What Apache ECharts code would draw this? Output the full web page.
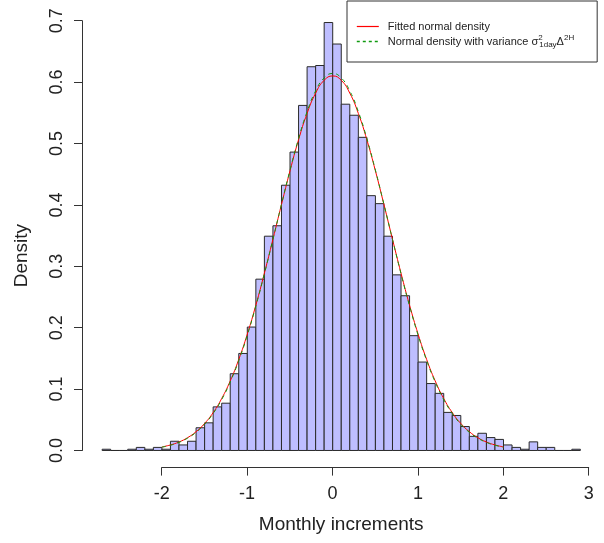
<!DOCTYPE html>
<html>
<head>
<meta charset="utf-8">
<script src="https://cdn.jsdelivr.net/npm/echarts@6/dist/echarts.min.js"></script>
<style>
  html, body { margin: 0; padding: 0; background: #fff; }
  #main { width: 604px; height: 543px; }
</style>
</head>
<body>
<div id="main"></div>
<script>
// histogram breaks and densities
const breaks = [-2.7, -2.6, -2.5, -2.4, -2.3, -2.2, -2.1, -2.0, -1.9, -1.8, -1.7, -1.6, -1.5, -1.4,
  -1.3, -1.2, -1.1, -1.0, -0.9, -0.8, -0.7, -0.6, -0.5, -0.4, -0.3, -0.2, -0.1, 0.0,
  0.1, 0.2, 0.3, 0.4, 0.5, 0.6, 0.7, 0.8, 0.9, 1.0, 1.1, 1.2, 1.3, 1.4, 1.5, 1.6,
  1.7, 1.8, 1.9, 2.0, 2.1, 2.2, 2.3, 2.4, 2.5, 2.6, 2.7, 2.8, 2.9];
const density = [0.002, 0, 0, 0.002, 0.005, 0.002, 0.005, 0.002, 0.015, 0.009, 0.015, 0.037, 0.045, 0.071,
  0.077, 0.125, 0.158, 0.201, 0.279, 0.349, 0.366, 0.432, 0.486, 0.562, 0.625, 0.627, 0.697,
  0.662, 0.564, 0.546, 0.510, 0.415, 0.402, 0.349, 0.286, 0.252, 0.187, 0.144, 0.109, 0.093,
  0.062, 0.057, 0.039, 0.023, 0.028, 0.021, 0.018, 0.009, 0.005, 0.002, 0.014, 0.005, 0.005,
  0, 0, 0.002];

// density curves, read at x = -2.0 ... 2.0
const curveX = [-2.0, -1.9, -1.8, -1.7, -1.6, -1.5, -1.4, -1.3, -1.2, -1.1, -1.0, -0.9, -0.8, -0.7,
  -0.6, -0.5, -0.4, -0.3, -0.2, -0.1, 0.0, 0.1, 0.2, 0.3, 0.4, 0.5, 0.6, 0.7, 0.8, 0.9,
  1.0, 1.1, 1.2, 1.3, 1.4, 1.5, 1.6, 1.7, 1.8, 1.9, 2.0];
const fittedY = [0.0057, 0.0090, 0.0138, 0.0208, 0.0306, 0.0440, 0.0617, 0.0846, 0.1133, 0.1482,
  0.1895, 0.2366, 0.2887, 0.3440, 0.4005, 0.4554, 0.5060, 0.5490, 0.5820, 0.6029, 0.6100,
  0.6029, 0.5820, 0.5490, 0.5060, 0.4554, 0.4005, 0.3440, 0.2887, 0.2366, 0.1895,
  0.1482, 0.1133, 0.0846, 0.0617, 0.0440, 0.0306, 0.0208, 0.0138, 0.0090, 0.0057];
const scaledY = [0.0054, 0.0085, 0.0132, 0.0200, 0.0296, 0.0428, 0.0603, 0.0830, 0.1116, 0.1465,
  0.1878, 0.2352, 0.2877, 0.3437, 0.4009, 0.4566, 0.5080, 0.5519, 0.5856, 0.6068, 0.6140,
  0.6068, 0.5856, 0.5519, 0.5080, 0.4566, 0.4009, 0.3437, 0.2877, 0.2352, 0.1878,
  0.1465, 0.1116, 0.0830, 0.0603, 0.0428, 0.0296, 0.0200, 0.0132, 0.0085, 0.0054];

const fittedName = 'Fitted normal density';
const scaledName = 'Normal density with variance';

var histData = density.map((d, i) => [breaks[i], breaks[i + 1], d]);
var zip = (xs, ys) => xs.map((x, i) => [x, ys[i]]);

var font = 'Liberation Sans, Arial, sans-serif';
var ink = '#222';
var red = '#ff0000';
var green = '#109a10';

var chart = echarts.init(document.getElementById('main'));
var option = {
    animation: false,
    backgroundColor: '#fff',
    grid: [
        // plot region
        {left: 83, right: 4.5, top: 5.4, bottom: 75.4},
        // x axis (drawn only over the tick range, like R)
        {left: 161.7, width: 427, top: 5.4, bottom: 75.4},
        // y axis
        {left: 82, width: 100, top: 20.7, bottom: 92.5}
    ],
    xAxis: [
        {type: 'value', gridIndex: 0, min: -2.924, max: 3.124, show: false},
        {
            type: 'value', gridIndex: 1, min: -2, max: 3, interval: 1,
            splitLine: {show: false},
            axisLine: {lineStyle: {color: '#333', width: 1}},
            axisTick: {length: 8, lineStyle: {color: '#333'}},
            axisLabel: {margin: 17, fontSize: 18, fontFamily: font, color: ink},
            name: 'Monthly increments', nameLocation: 'middle', nameGap: 48,
            // title is centred on the plot region, not on the tick range
            nameTextStyle: {fontSize: 19, fontFamily: font, color: ink, padding: [0, 68, 0, 0]}
        },
        {type: 'value', gridIndex: 2, min: 0, max: 1, show: false}
    ],
    yAxis: [
        {type: 'value', gridIndex: 0, min: -0.0279, max: 0.7249, show: false},
        {type: 'value', gridIndex: 1, min: 0, max: 1, show: false},
        {
            type: 'value', gridIndex: 2, min: 0, max: 0.7, interval: 0.1,
            splitLine: {show: false},
            axisLine: {show: true, lineStyle: {color: '#333', width: 1}},
            axisTick: {show: true, length: 8, lineStyle: {color: '#333'}},
            axisLabel: {
                margin: 16, rotate: 90, fontSize: 18, fontFamily: font, color: ink,
                formatter: v => v.toFixed(1)
            },
            name: 'Density', nameLocation: 'middle', nameGap: 51,
            nameTextStyle: {fontSize: 19, fontFamily: font, color: ink, padding: [0, 40, 0, 0]}
        }
    ],
    legend: {
        left: 347, top: 1,
        orient: 'vertical',
        itemWidth: 22, itemHeight: 12, itemGap: 0,
        padding: [18, 23, 13, 9],
        borderColor: '#333', borderWidth: 1, borderRadius: 0,
        backgroundColor: '#fff',
        itemStyle: {opacity: 0},
        data: [
            {name: fittedName, lineStyle: {color: red, width: 1.2, type: 'solid'}},
            {name: scaledName, lineStyle: {color: green, width: 1.6, type: [3, 3]}}
        ],
        formatter: name => name === scaledName ? name + ' σ{sup|2}{sub|1day}Δ{sup2|2H}' : name,
        textStyle: {
            fontSize: 11, fontFamily: font, color: ink, lineHeight: 15, padding: [0, 0, 0, 4],
            rich: {
                sup: {fontSize: 8, fontFamily: font, color: ink, verticalAlign: 'top', lineHeight: 15, width: 1},
                sub: {fontSize: 8, fontFamily: font, color: ink, verticalAlign: 'bottom', lineHeight: 15},
                sup2: {fontSize: 8, fontFamily: font, color: ink, verticalAlign: 'top', lineHeight: 15}
            }
        }
    },
    series: [
        {
            type: 'custom',
            name: 'hist',
            xAxisIndex: 0, yAxisIndex: 0,
            data: histData,
            encode: {x: [0, 1], y: 2},
            renderItem: function (params, api) {
                var p0 = api.coord([api.value(0), 0]);
                var p1 = api.coord([api.value(1), api.value(2)]);
                return {
                    type: 'rect',
                    shape: {x: p0[0], y: p1[1], width: p1[0] - p0[0], height: p0[1] - p1[1]},
                    style: {fill: '#bebeff', stroke: '#2a2a2a', lineWidth: 1}
                };
            }
        },
        {
            type: 'line', name: fittedName,
            xAxisIndex: 0, yAxisIndex: 0,
            data: zip(curveX, fittedY),
            smooth: true, symbol: 'none',
            lineStyle: {color: red, width: 1},
            itemStyle: {color: red}
        },
        {
            type: 'line', name: scaledName,
            xAxisIndex: 0, yAxisIndex: 0,
            data: zip(curveX, scaledY),
            smooth: true, symbol: 'none',
            lineStyle: {color: green, width: 1, type: [4, 4]},
            itemStyle: {color: green}
        }
    ]
};
chart.setOption(option);
</script>
</body>
</html>
